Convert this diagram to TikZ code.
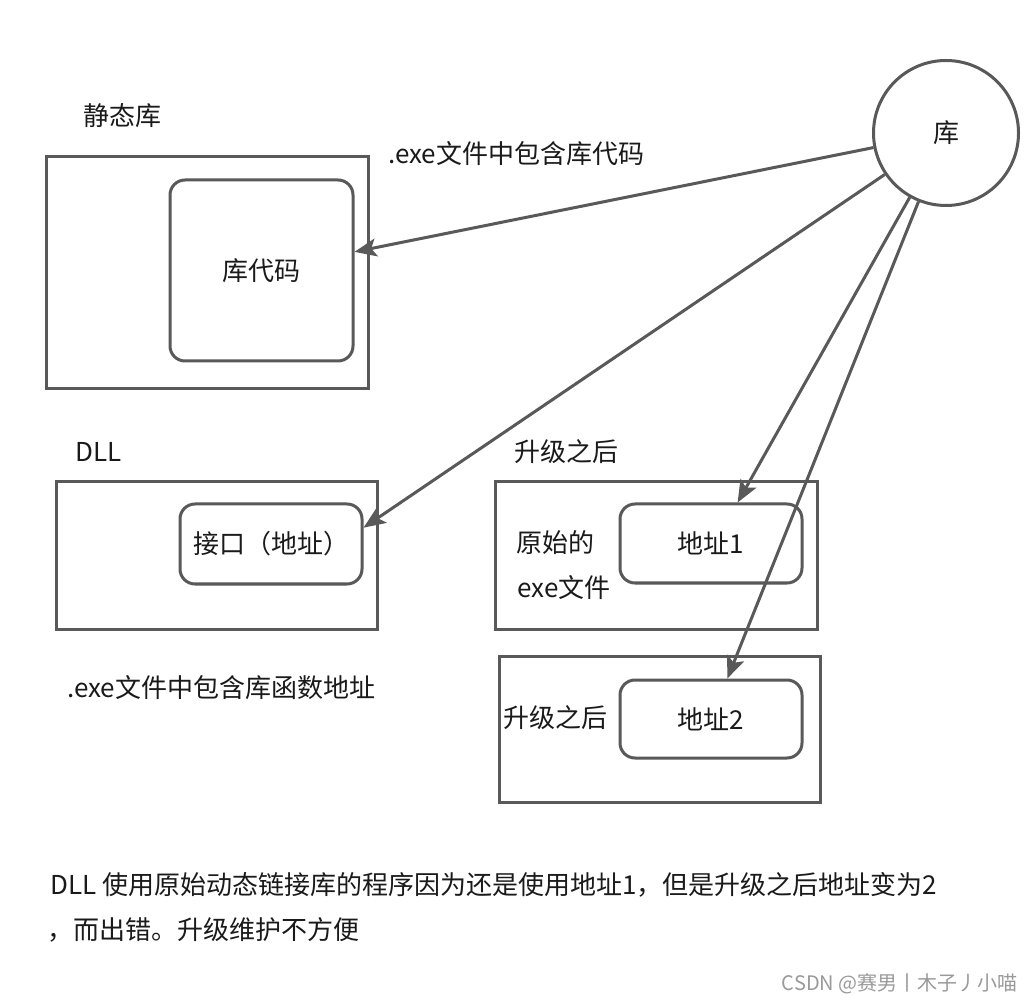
\documentclass[tikz,border=0pt]{standalone}
\usepackage{fontspec}
\setmainfont{Noto Sans CJK SC}
\usetikzlibrary{arrows.meta}
\definecolor{lc}{HTML}{595959}
\definecolor{tc}{HTML}{1A1A1A}
\definecolor{wm}{HTML}{9A9A9A}
\tikzset{
  outerbox/.style={draw=lc, line width=1.5pt, rectangle, inner sep=0pt},
  innerbox/.style={draw=lc, line width=1.5pt, rectangle, rounded corners=7.5pt, inner sep=0pt, text=tc},
  libcircle/.style={draw=lc, line width=1.5pt, circle, inner sep=0pt, minimum size=72.5pt, fill=white, text=tc},
  lbl/.style={text=tc, inner sep=0pt},
  linkarrow/.style={draw=lc, line width=1.5pt, -{Stealth[length=11pt,width=9pt,inset=2.5pt]}},
}
\begin{document}
\begin{tikzpicture}[x=0.5pt, y=-0.5pt, font=\fontsize{13pt}{16pt}\selectfont]
\fill[white] (0,0) rectangle (1032,1004);
\useasboundingbox (0,0) rectangle (1032,1004);

% static library
\node[lbl] (slabel) at (122,116) {静态库};
\node[outerbox, minimum width=161pt, minimum height=116pt] (sbox) at (207,273) {};
\node[innerbox, minimum width=91.5pt, minimum height=90.5pt] (sin) at (261.5,270.5) {库代码};
\node[lbl, anchor=west] (stext) at (388,154) {.exe文件中包含库代码};

% DLL
\node[lbl, anchor=west] (dlabel) at (75,452) {DLL};
\node[outerbox, minimum width=160.5pt, minimum height=73.5pt] (dbox) at (216.5,555.5) {};
\node[innerbox, minimum width=91pt, minimum height=40pt] (din) at (271,544) {接口（地址）};
\node[lbl, anchor=west] (dtext) at (67,688) {.exe文件中包含库函数地址};

% after upgrade, original exe
\node[lbl, anchor=west] (ulabel) at (514,452) {升级之后};
\node[outerbox, minimum width=161pt, minimum height=73.5pt] (ubox) at (656,555.5) {};
\node[innerbox, minimum width=91pt, minimum height=39.5pt] (uin) at (711,543.5) {地址1};
\node[lbl, anchor=west] (uorig) at (516,543) {原始的};
\node[lbl, anchor=west] (uexe) at (517,588) {exe文件};

% after upgrade, new
\node[outerbox, minimum width=160.5pt, minimum height=73pt] (vbox) at (659.5,729) {};
\node[innerbox, minimum width=91pt, minimum height=39pt] (vin) at (711,719) {地址2};
\node[lbl, anchor=west] (vlabel) at (503,718) {升级之后};

% library circle
\node[libcircle] (lib) at (946,133) {库};

% connectors
\draw[linkarrow] (lib) -- (sin);
\draw[linkarrow] (lib) -- (din.10);
\draw[linkarrow] (lib) -- (uin.57);
\draw[linkarrow] (lib) -- (vin.68);

% bottom text
\node[lbl, anchor=west] (note1) at (50,885) {DLL 使用原始动态链接库的程序因为还是使用地址1，但是升级之后地址变为2};
\node[lbl, anchor=west] (note2) at (47,930) {，而出错。升级维护不方便};

% watermark
\node[lbl, anchor=east, text=wm, font=\fontsize{10pt}{12pt}\selectfont] (wmark) at (1018,984) {CSDN @赛男丨木子丿小喵};
\end{tikzpicture}
\end{document}
